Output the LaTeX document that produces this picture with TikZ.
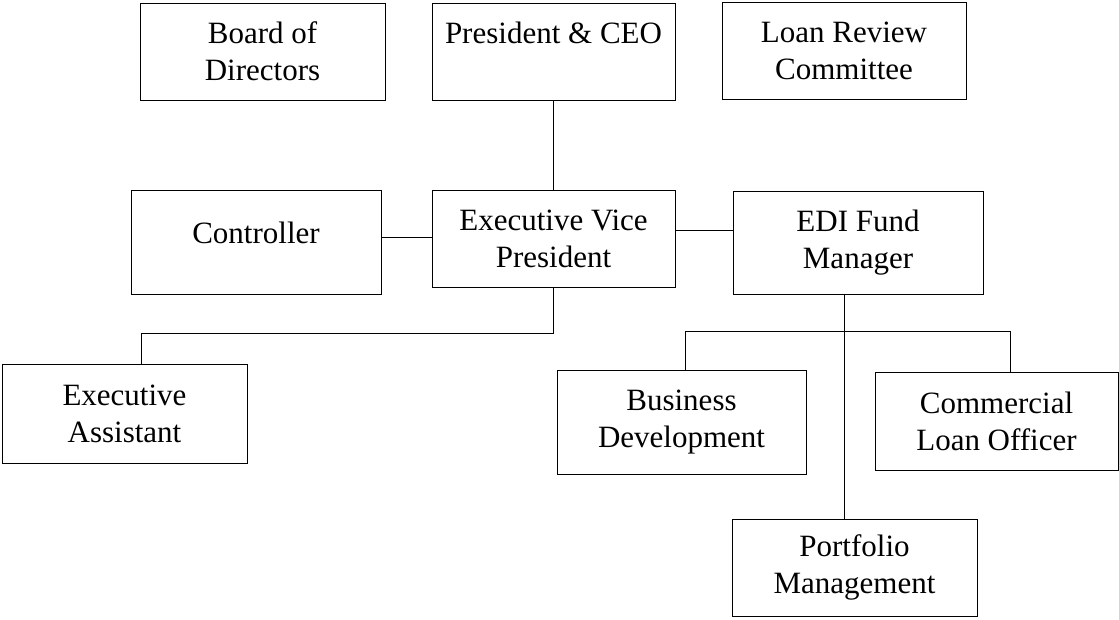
\documentclass[tikz,border=0pt]{standalone}
\usepackage{fontspec}
\setmainfont{Liberation Serif}
\usepackage{tikz}
\tikzstyle{unit} = [rectangle, draw=black, line width=1pt, inner sep=0pt, text centered, align=center, font=\fontsize{31}{37}\selectfont]
\tikzstyle{link} = [line width=1pt]

\begin{document}
\begin{tikzpicture}[x=1pt, y=-1pt]

	\useasboundingbox (0,0) rectangle (1119,619);

	\node (board) [unit, minimum width=245pt, minimum height=97pt] at (262.5,51.5) {Board of\\Directors};
	\node (pres) [unit, minimum width=243pt, minimum height=97pt] at (553.5,51.5) {President \& CEO\\\mbox{}};
	\node (loan) [unit, minimum width=244pt, minimum height=97pt] at (844,50.5) {Loan Review\\Committee};
	\node (ctrl) [unit, minimum width=250pt, minimum height=104pt, text depth=18pt] at (256,242) {Controller};
	\node (evp) [unit, minimum width=243pt, minimum height=97pt] at (553.5,238.5) {Executive Vice\\President};
	\node (edi) [unit, minimum width=250pt, minimum height=103pt] at (858,242.5) {EDI Fund\\Manager};
	\node (asst) [unit, minimum width=245pt, minimum height=99pt] at (124.5,413.5) {Executive\\Assistant};
	\node (busi) [unit, minimum width=249pt, minimum height=104pt] at (681.5,422) {Business\\Development};
	\node (comm) [unit, minimum width=243pt, minimum height=98pt] at (996.5,421) {Commercial\\Loan Officer};
	\node (port) [unit, minimum width=245pt, minimum height=97pt] at (854.5,567.5) {Portfolio\\Management};

	\draw [link] (pres) -- (evp);
	\draw [link] ([yshift=5pt]ctrl.east) -- ([yshift=5pt]ctrl.east -| evp.west);
	\draw [link] ([yshift=8pt]evp.east) -- ([yshift=8pt]evp.east -| edi.west);
	\draw [link] (evp.south) -- ++(0,46) -| ([xshift=16.5pt]asst.north);
	\draw [link] ([xshift=-14pt]edi.south) -- ([xshift=-14pt]edi.south |- port.north);
	\draw [link] ([xshift=3.5pt]busi.north) -- ++(0,-38) -| ([xshift=13.5pt]comm.north);

\end{tikzpicture}
\end{document}
